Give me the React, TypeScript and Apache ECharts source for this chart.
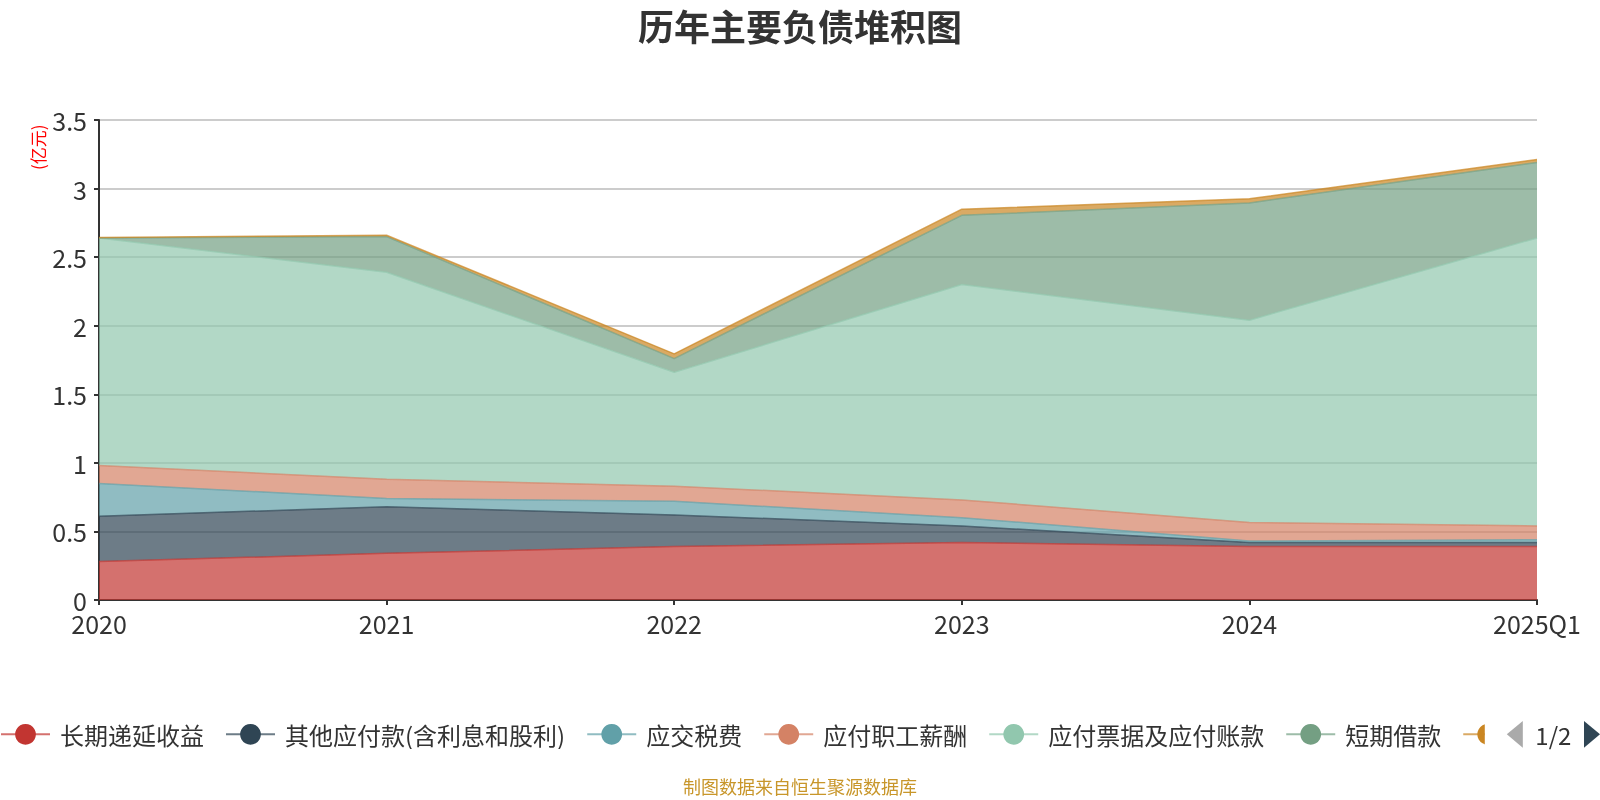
import React, { useEffect, useRef } from "react";
import * as echarts from "echarts";

const categories = ["2020", "2021", "2022", "2023", "2024", "2025Q1"];
const seriesNames = [
  "长期递延收益",
  "其他应付款(含利息和股利)",
  "应交税费",
  "应付职工薪酬",
  "应付票据及应付账款",
  "短期借款",
  "合同负债",
];
const deferredIncome = [0.28, 0.34, 0.39, 0.42, 0.39, 0.39];
const otherPayables = [0.33, 0.34, 0.23, 0.12, 0.03, 0.03];
const taxesPayable = [0.24, 0.06, 0.1, 0.06, 0.01, 0.02];
const payrollPayable = [0.13, 0.14, 0.11, 0.13, 0.135, 0.1];
const notesAccountsPayable = [1.66, 1.51, 0.83, 1.57, 1.475, 2.1];
const shortTermLoans = [0, 0.26, 0.1, 0.505, 0.855, 0.55];
const contractLiabilities = [0.003, 0.01, 0.035, 0.045, 0.03, 0.022];
const seriesData = [
  deferredIncome,
  otherPayables,
  taxesPayable,
  payrollPayable,
  notesAccountsPayable,
  shortTermLoans,
  contractLiabilities,
];
const colors = ["#c23531", "#2f4554", "#61a0a8", "#d48265", "#91c7ae", "#749f83", "#ca8622"];
const titleText = "历年主要负债堆积图";
const unitText = "(亿元)";
const sourceText = "制图数据来自恒生聚源数据库";

const FONT = "'Noto Sans CJK SC', 'Noto Sans', sans-serif";

export default function App() {
  const ref = useRef<HTMLDivElement>(null);
  useEffect(() => {
    if (!ref.current) return;
    const chart = echarts.init(ref.current, null, { renderer: "svg" });
    chart.setOption({
      animation: false,
      color: colors,
      textStyle: { fontFamily: FONT },
      title: {
        text: titleText,
        left: "center",
        top: 2,
        textStyle: { fontSize: 36, fontWeight: "bold", color: "#333", fontFamily: FONT },
      },
      graphic: [
        {
          type: "text",
          x: 29,
          y: 170,
          rotation: Math.PI / 2,
          style: { text: unitText, fill: "#ff0000", fontSize: 17, fontFamily: FONT },
        },
        {
          type: "text",
          left: "center",
          top: 777,
          style: { text: sourceText, fill: "#c8962a", fontSize: 18, fontFamily: FONT },
        },
      ],
      legend: {
        type: "scroll",
        top: 716,
        left: -5,
        right: 2,
        padding: [5, 0, 5, 5],
        itemWidth: 49,
        itemHeight: 26,
        itemGap: 21,
        textStyle: { fontSize: 24, color: "#333", fontFamily: FONT, padding: [0, 0, 0, 5] },
        pageTextStyle: { fontSize: 24, color: "#333" },
        pageIconSize: [16, 30],
        pageButtonItemGap: 2,
        pageButtonGap: 22,
        pageIconColor: "#2f4554",
        pageIconInactiveColor: "#aaa",
        data: seriesNames,
      },
      grid: { left: 99, right: 63, top: 120, height: 480 },
      xAxis: {
        type: "category",
        boundaryGap: false,
        data: categories,
        axisLine: { lineStyle: { color: "#333", width: 2 } },
        axisTick: { show: true, lineStyle: { color: "#333", width: 2 } },
        axisLabel: { fontSize: 25, color: "#333", margin: 10 },
      },
      yAxis: {
        type: "value",
        min: 0,
        max: 3.5,
        interval: 0.5,
        axisLine: { show: true, lineStyle: { color: "#333", width: 2 } },
        axisTick: { show: true, lineStyle: { color: "#333", width: 2 } },
        axisLabel: { fontSize: 25, color: "#333", margin: 12 },
        splitLine: { lineStyle: { color: "#ccc", width: 2 } },
      },
      series: seriesNames.map((name, i) => ({
        name,
        type: "line",
        stack: "total",
        data: seriesData[i],
        symbol: "circle",
        symbolSize: 10,
        showSymbol: false,
        lineStyle: { width: 1.5, opacity: 0.7 },
        areaStyle: { opacity: 0.7 },
      })),
    });
    return () => chart.dispose();
  }, []);
  return (
    <div
      ref={ref}
      style={{ position: "fixed", left: 0, top: 0, width: 1600, height: 800 }}
    />
  );
}
